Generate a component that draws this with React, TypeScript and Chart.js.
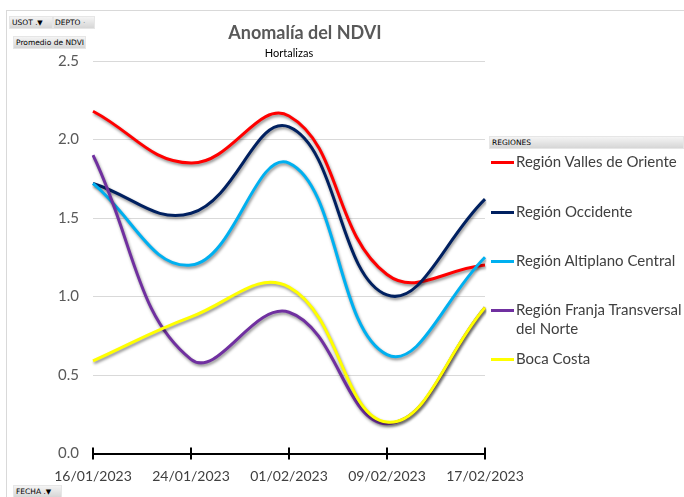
import React, { useEffect, useRef } from "react";
import { Chart, registerables } from "chart.js";

Chart.register(...registerables);

const fechas = ["16/01/2023", "24/01/2023", "01/02/2023", "09/02/2023", "17/02/2023"];
const vallesOriente = [2.18, 1.85, 2.15, 1.14, 1.2];
const occidente = [1.72, 1.53, 2.08, 1.01, 1.62];
const altiplanoCentral = [1.72, 1.2, 1.85, 0.63, 1.25];
const franjaTransversal = [1.9, 0.6, 0.9, 0.19, 0.93];
const bocaCosta = [0.59, 0.87, 1.06, 0.2, 0.93];
const yTicks = [0, 0.5, 1.0, 1.5, 2.0, 2.5];

const series = [
  { name: "Región Valles de Oriente", data: vallesOriente, color: "#ff0000" },
  { name: "Región Occidente", data: occidente, color: "#002060" },
  { name: "Región Altiplano Central", data: altiplanoCentral, color: "#00b0f0" },
  { name: "Región Franja Transversal del Norte", data: franjaTransversal, color: "#7030a0" },
  { name: "Boca Costa", data: bocaCosta, color: "#ffff00" },
];

const FONT = "Lato, 'Open Sans', sans-serif";

const shadowPlugin = {
  id: "lineShadow",
  beforeDatasetDraw(chart: any) {
    const ctx = chart.ctx;
    ctx.save();
    ctx.shadowColor = "rgba(0,0,0,0.45)";
    ctx.shadowBlur = 3;
    ctx.shadowOffsetX = 1;
    ctx.shadowOffsetY = 2;
  },
  afterDatasetDraw(chart: any) {
    chart.ctx.restore();
  },
};

const crossTicksPlugin = {
  id: "crossTicks",
  afterDraw(chart: any) {
    const ctx = chart.ctx;
    const xs = chart.scales.x;
    const y0 = chart.chartArea.bottom;
    ctx.save();
    ctx.strokeStyle = "#000";
    ctx.lineWidth = 2;
    ctx.beginPath();
    for (let i = 0; i < fechas.length; i++) {
      const px = Math.round(xs.getPixelForValue(i));
      ctx.moveTo(px, y0 - 6);
      ctx.lineTo(px, y0 + 6);
    }
    ctx.stroke();
    ctx.restore();
  },
};

const btn: React.CSSProperties = {
  position: "absolute",
  background: "linear-gradient(#f4f4f4, #d6d6d6)",
  border: "1px solid #e6e6e6",
  fontFamily: "'DejaVu Sans', sans-serif",
  fontSize: 7.5,
  color: "#000",
  lineHeight: "12px",
  boxSizing: "border-box",
  whiteSpace: "nowrap",
  paddingLeft: 2,
};

export default function App() {
  const ref = useRef<HTMLCanvasElement | null>(null);

  useEffect(() => {
    document.body.style.margin = "0";
    const canvas = ref.current!;
    const chart = new Chart(canvas, {
      type: "line",
      data: {
        labels: fechas,
        datasets: series.map((s, i) => ({
          label: s.name,
          data: s.data,
          borderColor: s.color,
          backgroundColor: s.color,
          borderWidth: 3,
          pointRadius: 0,
          tension: 0.42,
          fill: false,
          order: series.length - i,
        })),
      },
      options: {
        responsive: false,
        animation: false,
        devicePixelRatio: 1,
        layout: { padding: { top: 61, right: 199, left: 0, bottom: 0 } },
        plugins: {
          legend: { display: false },
          tooltip: { enabled: false },
          title: { display: false },
        },
        scales: {
          x: {
            type: "category",
            offset: false,
            grid: { display: false, drawTicks: false },
            border: { display: true, color: "#000", width: 2 },
            ticks: {
              font: { family: FONT, size: 14 },
              color: "#404040",
              padding: 15,
              maxRotation: 0,
              autoSkip: false,
            },
            afterFit(scale: any) {
              scale.height = 43.5;
            },
          },
          y: {
            min: 0,
            max: 2.5,
            afterBuildTicks(scale: any) {
              scale.ticks = yTicks.map((v) => ({ value: v }));
            },
            grid: { color: "#d9d9d9", lineWidth: 1, drawTicks: false },
            border: { display: false },
            ticks: {
              font: { family: FONT, size: 15 },
              color: "#595959",
              padding: 14,
              callback: (v: any) => Number(v).toFixed(1),
            },
            afterFit(scale: any) {
              scale.width = 93;
            },
          },
        },
      },
      plugins: [shadowPlugin, crossTicksPlugin],
    });
    return () => chart.destroy();
  }, []);

  const legendTop = [162, 212, 261, 310, 359];

  return (
    <div style={{ position: "relative", width: 684, height: 497, overflow: "hidden", background: "#fff" }}>
      <div style={{ position: "absolute", left: 6, top: 10, width: 700, height: 600, borderLeft: "1px solid #d9d9d9", borderTop: "1px solid #d9d9d9" }} />
      <canvas ref={ref} width={684} height={497} style={{ position: "absolute", left: 0, top: 0 }} />
      <div style={{ position: "absolute", left: 0, width: 610, top: 20, textAlign: "center", fontFamily: FONT, fontWeight: 700, fontSize: 18, color: "#595959", lineHeight: "24px" }}>
        Anomalía del NDVI
      </div>
      <div style={{ position: "absolute", left: 0, width: 578, top: 46, textAlign: "center", fontFamily: FONT, fontSize: 11, color: "#000", lineHeight: "14px" }}>
        Hortalizas
      </div>
      <div style={{ ...btn, left: 9, top: 16, width: 44, height: 13 }}>USOT <span style={{ fontSize: 7 }}>.▼</span></div>
      <div style={{ ...btn, left: 53, top: 16, width: 42, height: 13, paddingLeft: 1 }}>DEPTO <span style={{ color: "#888" }}>·</span></div>
      <div style={{ ...btn, left: 13, top: 36, width: 73, height: 13 }}>Promedio de NDVI</div>
      <div style={{ ...btn, left: 489, top: 136, width: 195, height: 13 }}>REGIONES</div>
      <div style={{ ...btn, left: 13, top: 485, width: 49, height: 13 }}>FECHA <span style={{ fontSize: 7 }}>.▼</span></div>
      {series.map((s, i) => (
        <div key={s.name} style={{ position: "absolute", left: 491, top: legendTop[i] - 10, fontFamily: FONT, fontSize: 15, color: "#404040", lineHeight: "19px", whiteSpace: "nowrap" }}>
          <span style={{ display: "inline-block", width: 23, height: 3, background: s.color, verticalAlign: "middle", marginRight: 2, marginTop: -2 }} />
          {i === 3 ? (
            <span>
              Región Franja Transversal
              <br />
              <span style={{ marginLeft: 25 }}>del Norte</span>
            </span>
          ) : (
            s.name
          )}
        </div>
      ))}
    </div>
  );
}
